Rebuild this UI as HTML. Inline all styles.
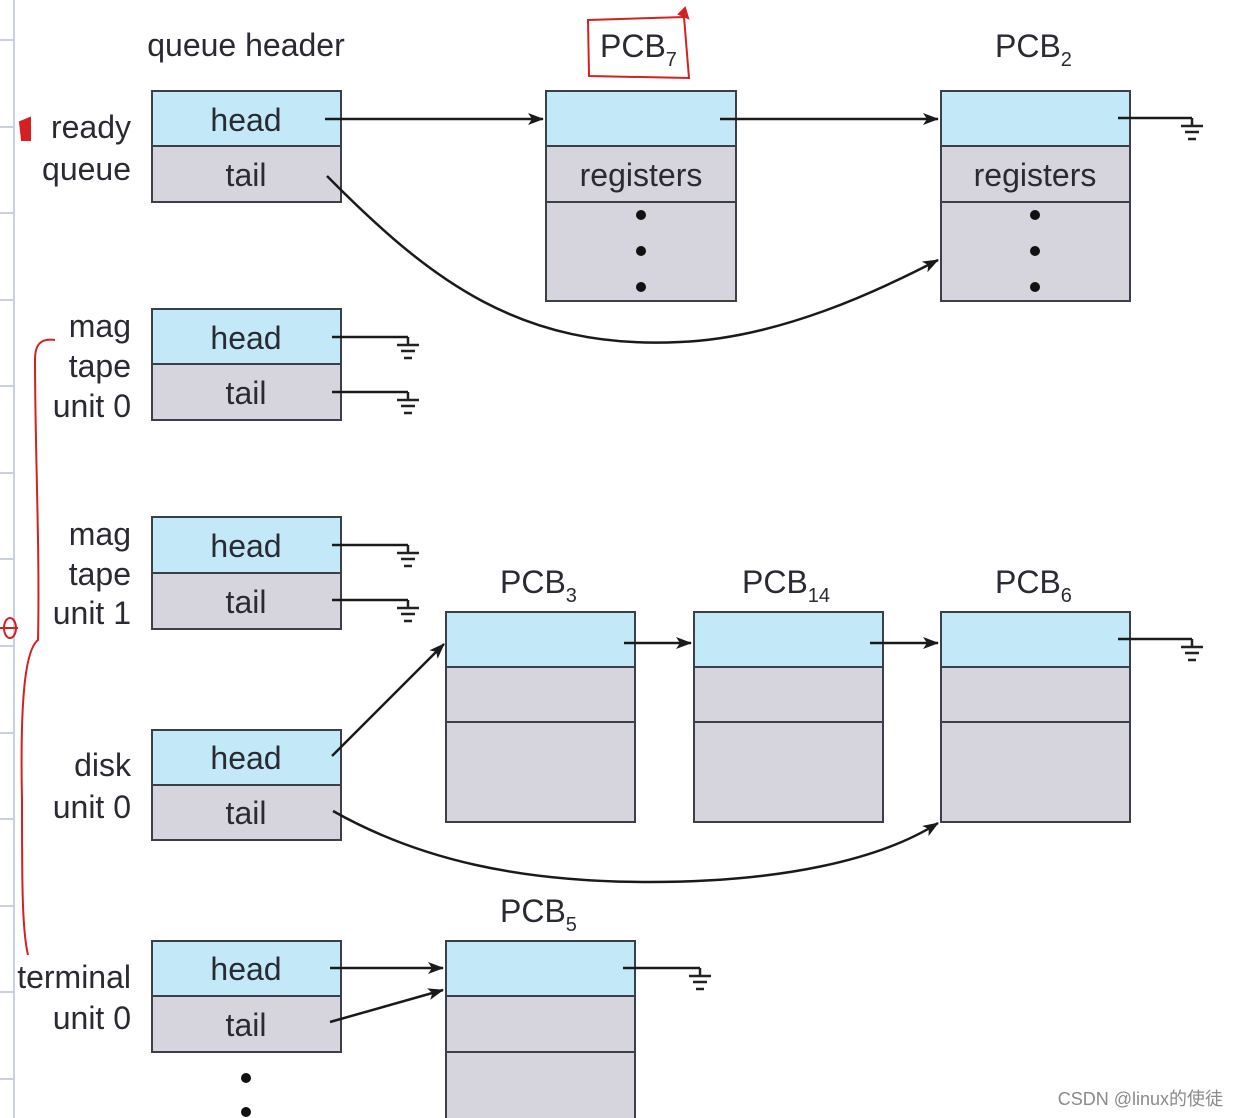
<!DOCTYPE html>
<html><head><meta charset="utf-8"><style>
html,body{margin:0;padding:0;background:#fff;}
svg{display:block;}
text{font-family:"Liberation Sans",sans-serif;fill:#2a2a33;}
</style></head><body>
<svg width="1238" height="1118" viewBox="0 0 1238 1118" xmlns="http://www.w3.org/2000/svg">
<defs>
<marker id="a" markerWidth="16" markerHeight="12" refX="15" refY="6" orient="auto" markerUnits="userSpaceOnUse">
<path d="M0,0 L16,6 L0,12 L4,6 Z" fill="#1a1a1a"/></marker>
<g id="gnd"><path d="M0,0 v8 M-11,8 h22 M-7,14 h14 M-4,21 h8" stroke="#222" stroke-width="2.5" fill="none"/></g>
</defs>
<line x1="14" y1="0" x2="14" y2="1118" stroke="#c9d0e0" stroke-width="2"/>
<g stroke="#c9d0e0" stroke-width="2">
<line x1="0" y1="40" x2="14" y2="40"/><line x1="0" y1="127" x2="14" y2="127"/><line x1="0" y1="213" x2="14" y2="213"/><line x1="0" y1="300" x2="14" y2="300"/><line x1="0" y1="386" x2="14" y2="386"/><line x1="0" y1="473" x2="14" y2="473"/><line x1="0" y1="559" x2="14" y2="559"/><line x1="0" y1="646" x2="14" y2="646"/><line x1="0" y1="733" x2="14" y2="733"/><line x1="0" y1="819" x2="14" y2="819"/><line x1="0" y1="906" x2="14" y2="906"/><line x1="0" y1="992" x2="14" y2="992"/><line x1="0" y1="1079" x2="14" y2="1079"/>
</g>
<g stroke="#3a3f4a" stroke-width="2">
<rect x="152" y="91" width="189" height="55" fill="#c3e9f9"/><rect x="152" y="146" width="189" height="56" fill="#d6d4dc"/>
<rect x="152" y="309" width="189" height="55" fill="#c3e9f9"/><rect x="152" y="364" width="189" height="56" fill="#d6d4dc"/>
<rect x="152" y="517" width="189" height="56" fill="#c3e9f9"/><rect x="152" y="573" width="189" height="56" fill="#d6d4dc"/>
<rect x="152" y="730" width="189" height="55" fill="#c3e9f9"/><rect x="152" y="785" width="189" height="55" fill="#d6d4dc"/>
<rect x="152" y="941" width="189" height="55" fill="#c3e9f9"/><rect x="152" y="996" width="189" height="56" fill="#d6d4dc"/>
<rect x="546" y="91" width="190" height="55" fill="#c3e9f9"/><rect x="546" y="146" width="190" height="56" fill="#d6d4dc"/><rect x="546" y="202" width="190" height="99" fill="#d6d4dc"/>
<rect x="941" y="91" width="189" height="55" fill="#c3e9f9"/><rect x="941" y="146" width="189" height="56" fill="#d6d4dc"/><rect x="941" y="202" width="189" height="99" fill="#d6d4dc"/>
<rect x="446" y="612" width="189" height="55" fill="#c3e9f9"/><rect x="446" y="667" width="189" height="55" fill="#d6d4dc"/><rect x="446" y="722" width="189" height="100" fill="#d6d4dc"/>
<rect x="694" y="612" width="189" height="55" fill="#c3e9f9"/><rect x="694" y="667" width="189" height="55" fill="#d6d4dc"/><rect x="694" y="722" width="189" height="100" fill="#d6d4dc"/>
<rect x="941" y="612" width="189" height="55" fill="#c3e9f9"/><rect x="941" y="667" width="189" height="55" fill="#d6d4dc"/><rect x="941" y="722" width="189" height="100" fill="#d6d4dc"/>
<rect x="446" y="941" width="189" height="55" fill="#c3e9f9"/><rect x="446" y="996" width="189" height="56" fill="#d6d4dc"/><rect x="446" y="1052" width="189" height="80" fill="#d6d4dc"/>
</g>
<g fill="#111">
<circle cx="641" cy="215" r="5"/><circle cx="641" cy="251" r="5"/><circle cx="641" cy="287" r="5"/>
<circle cx="1035" cy="215" r="5"/><circle cx="1035" cy="251" r="5"/><circle cx="1035" cy="287" r="5"/>
<circle cx="246" cy="1078" r="5"/><circle cx="246" cy="1112" r="5"/>
</g>
<g stroke="#1a1a1a" stroke-width="2.5" fill="none">
<line x1="325" y1="119" x2="543" y2="119" marker-end="url(#a)"/>
<line x1="720" y1="119" x2="938" y2="119" marker-end="url(#a)"/>
<path d="M327,176 C430,280 520,350 680,342 C780,338 880,290 938,260" marker-end="url(#a)"/>
<path d="M1118,118 H1192"/>
<path d="M332,337 H408"/><path d="M332,392 H408"/>
<path d="M332,545 H408"/><path d="M332,600 H408"/>
<line x1="332" y1="756" x2="444" y2="644" marker-end="url(#a)"/>
<path d="M333,811 C420,860 520,882 650,882 C780,882 880,860 938,823" marker-end="url(#a)"/>
<line x1="624" y1="643" x2="691" y2="643" marker-end="url(#a)"/>
<line x1="870" y1="643" x2="938" y2="643" marker-end="url(#a)"/>
<path d="M1118,639 H1192"/>
<line x1="330" y1="968" x2="443" y2="968" marker-end="url(#a)"/>
<line x1="330" y1="1022" x2="443" y2="990" marker-end="url(#a)"/>
<path d="M623,968 H700"/>
</g>
<use href="#gnd" x="1192" y="118"/>
<use href="#gnd" x="408" y="337"/><use href="#gnd" x="408" y="392"/>
<use href="#gnd" x="408" y="545"/><use href="#gnd" x="408" y="600"/>
<use href="#gnd" x="1192" y="639"/>
<use href="#gnd" x="700" y="968"/>
<g font-size="32">
<text x="246" y="56" text-anchor="middle" font-size="32">queue header</text>
<text x="246" y="131" text-anchor="middle">head</text><text x="246" y="186" text-anchor="middle">tail</text>
<text x="246" y="349" text-anchor="middle">head</text><text x="246" y="404" text-anchor="middle">tail</text>
<text x="246" y="557" text-anchor="middle">head</text><text x="246" y="613" text-anchor="middle">tail</text>
<text x="246" y="769" text-anchor="middle">head</text><text x="246" y="824" text-anchor="middle">tail</text>
<text x="246" y="980" text-anchor="middle">head</text><text x="246" y="1036" text-anchor="middle">tail</text>
<text x="641" y="186" text-anchor="middle">registers</text>
<text x="1035" y="186" text-anchor="middle">registers</text>
<g text-anchor="end">
<text x="131" y="138">ready</text><text x="131" y="180">queue</text>
<text x="131" y="337">mag</text><text x="131" y="377">tape</text><text x="131" y="417">unit 0</text>
<text x="131" y="545">mag</text><text x="131" y="585">tape</text><text x="131" y="624">unit 1</text>
<text x="131" y="776">disk</text><text x="131" y="818">unit 0</text>
<text x="131" y="988">terminal</text><text x="131" y="1029">unit 0</text>
</g>
<text x="600" y="57">PCB<tspan font-size="20" dy="9">7</tspan></text>
<text x="995" y="57">PCB<tspan font-size="20" dy="9">2</tspan></text>
<text x="500" y="593">PCB<tspan font-size="20" dy="9">3</tspan></text>
<text x="742" y="593">PCB<tspan font-size="20" dy="9">14</tspan></text>
<text x="995" y="593">PCB<tspan font-size="20" dy="9">6</tspan></text>
<text x="500" y="922">PCB<tspan font-size="20" dy="9">5</tspan></text>
</g>
<g stroke="#d42020" stroke-width="2" fill="none">
<path d="M588,20 L684,17 L689,78 L589,76 Z"/>
<path d="M679,14 l6,-6 l3,10 z" fill="#d42020"/>
<path d="M55,340 C40,338 35,345 35,360 C35,450 40,550 38,640 C25,650 20,700 22,800 C22,880 22,930 28,955"/>
<path d="M20,122 l10,-4 l0,22 l-8,0 z" fill="#d42020"/>
<path d="M4,628 a6,10 0 1,0 12,0 a6,10 0 1,0 -12,0 M0,628 h18"/>
</g>
<text x="1223" y="1105" text-anchor="end" font-size="18" style="fill:#8a8a8a;font-family:'Liberation Sans','Noto Sans CJK SC',sans-serif">CSDN @linux的使徒</text>
</svg>
</body></html>
